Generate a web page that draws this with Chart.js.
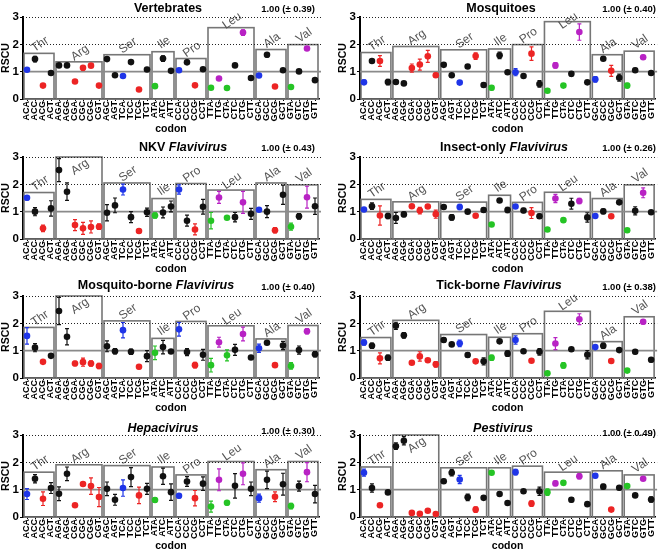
<!DOCTYPE html>
<html>
<head>
<meta charset="utf-8">
<script src="https://cdn.jsdelivr.net/npm/chart.js@4.4.0/dist/chart.umd.min.js"></script>
<style>
body{margin:0;background:#fff;}
#page{position:relative;width:662px;height:556px;overflow:hidden;font-family:"Liberation Sans",Arial,sans-serif;}
.panel{position:absolute;width:331px;height:139px;}
.panel canvas{position:absolute;left:0;top:0;}
.ttl{position:absolute;font-weight:bold;font-size:12.5px;white-space:nowrap;transform:translate(-50%,-50%);color:#000;}
.sd{position:absolute;font-weight:bold;font-size:9.5px;white-space:nowrap;transform:translate(-100%,-50%);color:#000;}
</style>
</head>
<body>
<div id="page"></div>
<script>
// codons on the x axis, grouped by amino acid
const codons = [
  "ACA","ACC","ACG","ACT",
  "AGA","AGG","CGA","CGC","CGG","CGT",
  "AGC","AGT","TCA","TCC","TCG","TCT",
  "ATA","ATC","ATT",
  "CCA","CCC","CCG","CCT",
  "TTA","TTG","CTA","CTC","CTG","CTT",
  "GCA","GCC","GCG","GCT",
  "GTA","GTC","GTG","GTT"
]
const aminoAcids = ["Thr","Arg","Ser","Ile","Pro","Leu","Ala","Val"]
const groupSizes = [4,6,6,3,4,6,4,4]
const yTicks = [0,1,2,3]

// Vertebrates
const vertebratesRscu = [1.07,1.46,0.49,0.95, 1.23,1.23,0.64,1.14,1.22,0.49, 1.46,0.87,0.84,1.35,0.35,1.08, 0.47,1.48,1.03, 1.05,1.34,0.50,1.09, 0.41,0.75,0.40,1.23,2.43,0.77, 0.86,1.62,0.46,1.05, 0.44,1.01,1.85,0.69]
const vertebratesErr  = [0.06,0.10,0.03,0.05, 0.04,0.04,0.04,0.08,0.04,0.03, 0.04,0.03,0.03,0.05,0.03,0.04, 0.03,0.10,0.05, 0.04,0.07,0.03,0.05, 0.03,0.03,0.03,0.06,0.10,0.03, 0.03,0.08,0.03,0.03, 0.03,0.04,0.04,0.03]
const vertebratesBox  = [1.67,1.36,1.62,1.73,1.48,2.61,1.81,1.99]

// Mosquitoes
const mosquitoesRscu = [0.61,1.39,1.39,0.62, 0.62,0.57,1.13,1.26,1.56,0.87, 1.25,0.87,0.60,1.19,1.57,0.51, 0.41,1.60,0.98, 0.98,0.84,1.66,0.55, 0.30,1.23,0.49,0.92,2.45,0.61, 0.72,1.47,1.03,0.78, 0.49,1.05,1.53,0.95]
const mosquitoesErr  = [0.08,0.03,0.20,0.10, 0.06,0.03,0.15,0.20,0.22,0.08, 0.06,0.06,0.05,0.03,0.12,0.07, 0.08,0.12,0.03, 0.13,0.03,0.25,0.12, 0.06,0.10,0.07,0.08,0.30,0.03, 0.10,0.04,0.20,0.13, 0.08,0.07,0.07,0.05]
const mosquitoesBox  = [1.70,1.92,1.80,1.83,1.99,2.83,1.62,1.75]

// NKV Flavivirus
const nkvRscu = [1.51,1.00,0.39,1.12, 2.52,1.73,0.51,0.39,0.44,0.45, 0.96,1.23,1.81,0.80,0.29,0.98, 0.86,0.97,1.19, 1.81,0.67,0.35,1.18, 0.67,1.52,0.78,0.80,1.34,0.92, 1.07,1.00,0.32,1.62, 0.45,0.83,1.53,1.20]
const nkvErr  = [0.08,0.15,0.12,0.28, 0.42,0.32,0.20,0.22,0.22,0.10, 0.30,0.27,0.20,0.20,0.07,0.15, 0.10,0.20,0.20, 0.17,0.20,0.20,0.27, 0.30,0.22,0.06,0.17,0.40,0.20, 0.03,0.22,0.10,0.35, 0.13,0.10,0.40,0.30]
const nkvBox  = [1.70,3.00,2.05,1.48,2.03,1.79,2.05,1.98]

// Insect-only Flavivirus
const insectOnlyRscu = [1.08,1.20,0.86,0.84, 0.77,0.90,1.20,1.04,1.19,0.91, 1.17,0.79,1.17,1.00,0.85,1.06, 0.53,1.41,1.06, 1.19,1.04,0.95,0.83, 0.35,1.48,0.69,1.29,1.39,0.79, 0.84,1.01,0.83,1.34, 0.32,1.03,1.69,0.98]
const insectOnlyErr  = [0.04,0.12,0.35,0.10, 0.20,0.08,0.05,0.12,0.06,0.15, 0.03,0.10,0.10,0.03,0.03,0.07, 0.03,0.07,0.10, 0.05,0.08,0.20,0.08, 0.03,0.15,0.03,0.20,0.10,0.17, 0.03,0.08,0.06,0.04, 0.06,0.15,0.18,0.03]
const insectOnlyBox  = [1.45,1.36,1.35,1.60,1.34,1.71,1.48,1.98]

// Mosquito-borne Flavivirus
const mosquitoBorneRscu = [1.54,1.11,0.59,0.81, 2.45,1.51,0.53,0.58,0.53,0.44, 1.16,0.98,1.75,0.96,0.41,0.80, 0.92,1.13,0.97, 1.78,0.95,0.47,0.85, 0.47,1.31,0.83,1.03,1.61,0.75, 1.09,1.29,0.47,1.19, 0.44,1.02,1.71,0.87]
const mosquitoBorneErr  = [0.30,0.15,0.06,0.06, 0.50,0.30,0.08,0.15,0.10,0.10, 0.20,0.10,0.28,0.10,0.07,0.20, 0.25,0.25,0.07, 0.25,0.13,0.10,0.20, 0.25,0.18,0.20,0.20,0.25,0.06, 0.15,0.06,0.06,0.15, 0.12,0.15,0.10,0.10]
const mosquitoBorneBox  = [1.85,3.00,2.09,1.45,2.07,1.91,1.43,1.92]

// Tick-borne Flavivirus
const tickBorneRscu = [1.30,1.18,0.72,0.74, 1.91,1.56,0.56,0.79,0.65,0.50, 1.39,1.23,1.27,0.84,0.61,0.61, 0.74,1.34,0.89, 1.39,0.98,0.63,0.96, 0.17,1.26,0.46,1.05,2.15,0.85, 1.13,1.18,0.62,1.02, 0.27,0.96,2.06,0.67]
const tickBorneErr  = [0.10,0.10,0.20,0.10, 0.13,0.10,0.03,0.17,0.04,0.10, 0.08,0.04,0.12,0.08,0.03,0.13, 0.10,0.03,0.10, 0.15,0.03,0.03,0.12, 0.03,0.22,0.10,0.06,0.20,0.15, 0.05,0.10,0.03,0.04, 0.03,0.07,0.08,0.08]
const tickBorneBox  = [1.48,2.11,1.59,1.49,1.62,2.44,1.33,2.24]

// Hepacivirus
const hepacivirusRscu = [0.84,1.40,0.67,1.06, 0.85,1.58,0.43,1.21,1.13,0.73, 1.03,0.63,1.06,1.46,0.79,1.03, 0.62,1.49,0.91, 0.78,1.30,0.69,1.22, 0.38,1.36,0.52,1.14,1.58,1.03, 0.69,1.36,0.74,1.20, 0.40,1.13,1.64,0.84]
const hepacivirusErr  = [0.20,0.15,0.25,0.20, 0.25,0.25,0.03,0.04,0.30,0.35, 0.25,0.20,0.30,0.35,0.30,0.20, 0.08,0.30,0.30, 0.08,0.18,0.28,0.25, 0.20,0.40,0.08,0.45,0.40,0.25, 0.15,0.32,0.18,0.40, 0.10,0.18,0.35,0.32]
const hepacivirusBox  = [1.64,1.91,1.88,1.83,1.54,2.03,1.73,2.03]

// Pestivirus
const pestivirusRscu = [1.62,1.06,0.43,0.90, 2.59,2.79,0.15,0.12,0.23,0.11, 1.31,1.62,1.37,0.72,0.27,0.70, 1.62,0.84,0.51, 1.64,0.94,0.49,0.94, 0.91,1.23,1.25,0.63,1.49,0.47, 1.51,1.11,0.27,1.07, 1.13,0.79,1.40,0.64]
const pestivirusErr  = [0.13,0.15,0.06,0.04, 0.12,0.15,0.03,0.03,0.03,0.03, 0.07,0.12,0.15,0.12,0.10,0.05, 0.06,0.05,0.03, 0.10,0.06,0.10,0.15, 0.12,0.08,0.08,0.08,0.10,0.03, 0.07,0.08,0.03,0.07, 0.04,0.05,0.04,0.10]
const pestivirusBox  = [1.83,3.00,1.80,1.80,1.86,1.64,1.69,1.54]

const sdValues = ["0.39","0.40","0.43","0.26","0.40","0.38","0.30","0.49"]

const blue = "#1f35e8", red = "#ec2424", green = "#25c425", purple = "#b822c4", black = "#111"

// colour by dinucleotide: CpG red, CpA blue, UpA green, UpG purple
function codonColor(c) {
  if (c.includes("CG")) return red
  if (c.endsWith("CA")) return blue
  if (c.endsWith("TA")) return green
  if (c.endsWith("TG")) return purple
  return black
}
const pointColors = codons.map(codonColor)

// boxes, reference lines and error bars
const decor = {
  id: "decor",
  beforeDatasetsDraw(chart, args, opts) {
    const ctx = chart.ctx
    const area = chart.chartArea
    const x = chart.scales.x, y = chart.scales.y
    const step = x.getPixelForValue(1) - x.getPixelForValue(0)
    ctx.save()
    let start = 0
    opts.boxes.forEach((top, g) => {
      const n = groupSizes[g]
      const x0 = x.getPixelForValue(start) - step / 2 + 1
      const x1 = x.getPixelForValue(start + n - 1) + step / 2 - 1
      const yb = y.getPixelForValue(0)
      const yt = y.getPixelForValue(top)
      ctx.strokeStyle = "#767676"
      ctx.lineWidth = 1.6
      ctx.strokeRect(x0, yt, x1 - x0, yb - yt)
      // amino acid name above the box, or inside it when the box fills the plot
      let lv = top + 0.33
      if (lv > 3.2) lv = top - 0.37
      else lv = Math.min(lv, 2.86)
      ctx.save()
      ctx.translate((x0 + x1) / 2 + 1, y.getPixelForValue(lv))
      ctx.rotate(-35 * Math.PI / 180)
      ctx.fillStyle = "#555"
      ctx.font = '12px "Liberation Sans", Arial, sans-serif'
      ctx.textAlign = "center"
      ctx.textBaseline = "middle"
      ctx.fillText(aminoAcids[g], 0, 0)
      ctx.restore()
      start += n
    })
    // dotted lines at 2 and 3
    ctx.strokeStyle = "#222"
    ctx.lineWidth = 1
    ctx.setLineDash([1, 2])
    ;[2, 3].forEach(v => {
      const py = Math.round(y.getPixelForValue(v)) + 0.5
      ctx.beginPath(); ctx.moveTo(area.left, py); ctx.lineTo(area.right + 2, py); ctx.stroke()
    })
    ctx.setLineDash([])
    // solid line at 1
    ctx.strokeStyle = "#8a8a8a"
    ctx.lineWidth = 1.6
    const p1 = y.getPixelForValue(1)
    ctx.beginPath(); ctx.moveTo(area.left, p1); ctx.lineTo(area.right + 2, p1); ctx.stroke()
    // error bars
    ctx.lineWidth = 1.2
    opts.values.forEach((v, i) => {
      const e = opts.errors[i]
      const px = x.getPixelForValue(i)
      const lo = y.getPixelForValue(v - e), hi = y.getPixelForValue(v + e)
      ctx.strokeStyle = pointColors[i]
      ctx.beginPath()
      ctx.moveTo(px, lo); ctx.lineTo(px, hi)
      ctx.moveTo(px - 2, lo); ctx.lineTo(px + 2, lo)
      ctx.moveTo(px - 2, hi); ctx.lineTo(px + 2, hi)
      ctx.stroke()
    })
    ctx.restore()
  }
}

const panels = [
  {name: "Vertebrates", italic: "", values: vertebratesRscu, errors: vertebratesErr, boxes: vertebratesBox, tx: 168, ty: 7.5, sy: 8.3},
  {name: "Mosquitoes", italic: "", values: mosquitoesRscu, errors: mosquitoesErr, boxes: mosquitoesBox, tx: 170, ty: 7.5, sy: 8.3},
  {name: "NKV ", italic: "Flavivirus", values: nkvRscu, errors: nkvErr, boxes: nkvBox, tx: 183, ty: 7, sy: 7.3},
  {name: "Insect-only ", italic: "Flavivirus", values: insectOnlyRscu, errors: insectOnlyErr, boxes: insectOnlyBox, tx: 173, ty: 6.7, sy: 7.3},
  {name: "Mosquito-borne ", italic: "Flavivirus", values: mosquitoBorneRscu, errors: mosquitoBorneErr, boxes: mosquitoBorneBox, tx: 156, ty: 5.5, sy: 7.3},
  {name: "Tick-borne ", italic: "Flavivirus", values: tickBorneRscu, errors: tickBorneErr, boxes: tickBorneBox, tx: 168, ty: 5.5, sy: 7.3},
  {name: "", italic: "Hepacivirus", values: hepacivirusRscu, errors: hepacivirusErr, boxes: hepacivirusBox, tx: 163, ty: 10, sy: 12.3},
  {name: "", italic: "Pestivirus", values: pestivirusRscu, errors: pestivirusErr, boxes: pestivirusBox, tx: 172, ty: 10, sy: 14}
]
const rowTops = [0, 140, 279, 418]

const page = document.getElementById("page")
panels.forEach((p, k) => {
  const col = k % 2, row = Math.floor(k / 2)
  const h = row === 3 ? 138 : 139
  const div = document.createElement("div")
  div.className = "panel"
  div.style.left = (col * 331) + "px"
  div.style.top = rowTops[row] + "px"
  div.style.height = h + "px"
  const canvas = document.createElement("canvas")
  canvas.width = 331; canvas.height = h
  canvas.style.width = "331px"; canvas.style.height = h + "px"
  div.appendChild(canvas)
  const t = document.createElement("div")
  t.className = "ttl"
  t.style.left = p.tx + "px"; t.style.top = p.ty + "px"
  t.innerHTML = p.name + (p.italic ? "<i>" + p.italic + "</i>" : "")
  div.appendChild(t)
  const s = document.createElement("div")
  s.className = "sd"
  s.style.left = (col ? 325 : 315) + "px"; s.style.top = p.sy + "px"
  s.textContent = "1.00 (\u00b1 " + sdValues[k] + ")"
  div.appendChild(s)
  page.appendChild(div)

  new Chart(canvas.getContext("2d"), {
    type: "line",
    data: {
      labels: codons,
      datasets: [{
        data: p.values,
        showLine: false,
        pointRadius: 3.3,
        pointHoverRadius: 3.3,
        pointBorderWidth: 0,
        pointBackgroundColor: pointColors,
        pointBorderColor: pointColors
      }]
    },
    options: {
      responsive: false,
      animation: false,
      events: [],
      layout: {padding: {top: 17, left: col ? 6 : 0, right: col ? 5 : 12, bottom: 0}},
      plugins: {
        legend: {display: false},
        tooltip: {enabled: false},
        decor: {values: p.values, errors: p.errors, boxes: p.boxes}
      },
      scales: {
        x: {
          type: "category",
          offset: true,
          grid: {display: true, drawOnChartArea: false, drawTicks: true, tickLength: 2, color: "#000"},
          border: {color: "#000", width: 1.5},
          ticks: {autoSkip: false, minRotation: 90, maxRotation: 90, padding: 0,
            color: "#000", font: {family: '"Liberation Sans", Arial', size: 9, weight: "bold"}},
          title: {display: true, text: "codon", color: "#000", padding: {top: 0, bottom: 4},
            font: {family: '"Liberation Sans", Arial', size: 10.5, weight: "bold"}},
          afterFit(scale) { scale.height = h - 99 }
        },
        y: {
          min: 0, max: 3,
          afterBuildTicks(scale) { scale.ticks = yTicks.map(v => ({value: v})) },
          grid: {display: true, drawOnChartArea: false, drawTicks: true, tickLength: 3, color: "#000"},
          border: {color: "#000", width: 2},
          ticks: {padding: 1, color: "#000", font: {family: '"Liberation Sans", Arial', size: 11.5, weight: "bold"}},
          title: {display: true, text: "RSCU", color: "#000", padding: {top: 0, bottom: 0},
            font: {family: '"Liberation Sans", Arial', size: 10.5, weight: "bold"}},
          afterFit(scale) { scale.width = 23 }
        }
      }
    },
    plugins: [decor]
  })
})
</script>
</body>
</html>
